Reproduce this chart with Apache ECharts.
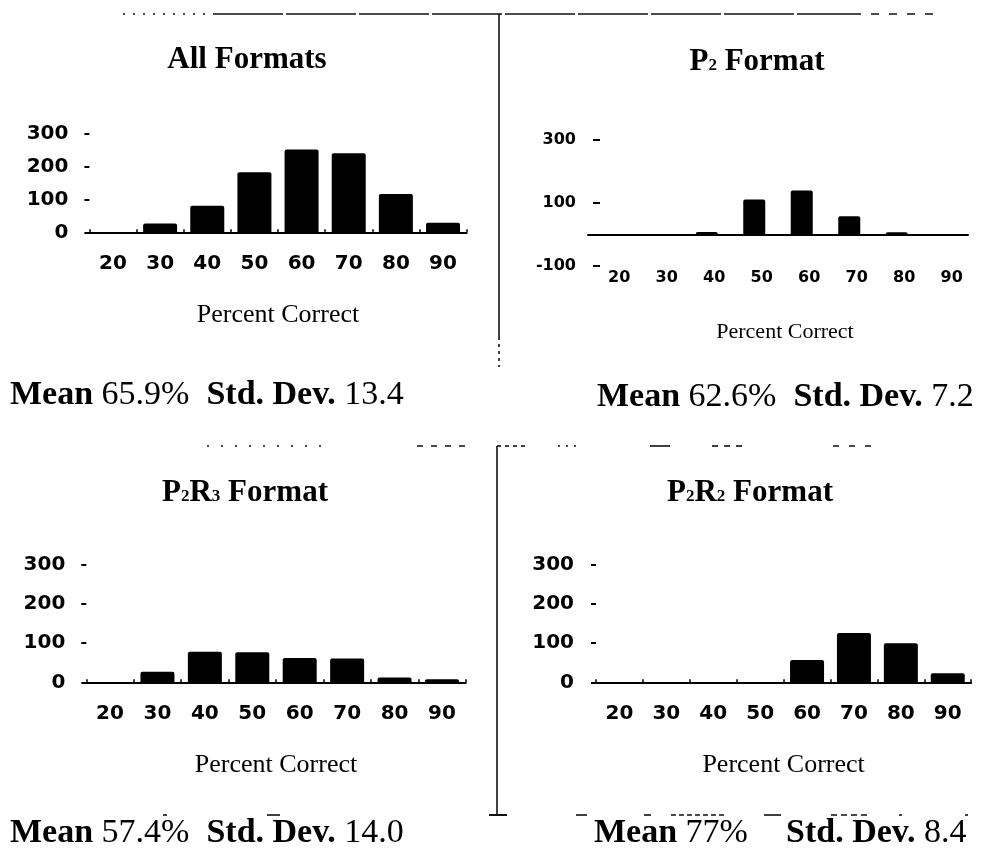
<!DOCTYPE html>
<html><head><meta charset="utf-8">
<script src="https://cdn.jsdelivr.net/npm/echarts@6/dist/echarts.min.js"></script>
<style>html,body{margin:0;padding:0;background:#fff}#c{width:988px;height:857px}</style>
</head><body><div id="c"></div>
<script>
// ---- data ----
const categories = ['20', '30', '40', '50', '60', '70', '80', '90'];
const allFormats = [0, 27, 81, 183, 253, 241, 117, 29];
const p2Format   = [1, 1, 8, 111, 140, 58, 7, 0];
const p2r3Format = [0, 27, 78, 77, 62, 61, 12, 8];
const p2r2Format = [0, 0, 1, 1, 57, 126, 100, 23];
const yStd = { min: 0, max: 300, interval: 100 };
const yP2  = { min: -100, max: 300, interval: 200 };
const xName = 'Percent Correct';
const titleTexts = ['{b|All Formats}', '{b|P}{s|2}{b| Format}', '{b|P}{s|2}{b|R}{s|3}{b| Format}', '{b|P}{s|2}{b|R}{s|2}{b| Format}'];
const means = ['65.9%', '62.6%', '57.4%', '77%'];
const sds   = ['13.4', '7.2', '14.0', '8.4'];

// ---- styles ----
const BLACK = '#000';
const NUMF = 'DejaVu Sans';
const SERIF = 'Liberation Serif';

function yAxisStd(gi, margin) {
  return {
    type: 'value', gridIndex: gi, min: yStd.min, max: yStd.max, interval: yStd.interval,
    axisLine: { show: false }, splitLine: { show: false },
    axisTick: { show: true, length: 5, lineStyle: { color: BLACK, width: 2 } },
    axisLabel: { color: BLACK, fontFamily: NUMF, fontWeight: 'bold', fontSize: 20, margin: margin, padding: [0, 0, 8, 0] }
  };
}
function xAxisStd(gi) {
  return {
    type: 'category', gridIndex: gi, data: categories,
    axisLine: { show: true, onZero: true, lineStyle: { color: BLACK, width: 2 } },
    axisTick: { show: true, inside: true, length: 3, lineStyle: { color: BLACK, width: 1.5 } },
    axisLabel: { color: BLACK, fontFamily: NUMF, fontWeight: 'bold', fontSize: 20, margin: 21 },
    name: xName, nameLocation: 'middle', nameGap: 70,
    nameTextStyle: { fontFamily: SERIF, fontSize: 26, color: BLACK }
  };
}
function barSeries(xi, yi, data, w) {
  return {
    type: 'bar', xAxisIndex: xi, yAxisIndex: yi, data: data, barWidth: w,
    itemStyle: { color: BLACK, borderRadius: [2, 2, 0, 0] }, silent: true
  };
}

const titleRich = {
  b: { fontFamily: SERIF, fontWeight: 'bold', fontSize: 31, fill: BLACK },
  s: { fontFamily: SERIF, fontWeight: 'bold', fontSize: 17, fill: BLACK, padding: [7, 0, 0, 0] }
};
const statRich = {
  b: { fontFamily: SERIF, fontWeight: 'bold', fontSize: 34, fill: BLACK },
  r: { fontFamily: SERIF, fontWeight: 'normal', fontSize: 34, fill: BLACK }
};
function txt(x, y, text, rich, align) {
  return { type: 'text', x: x, y: y, silent: true,
    style: { text: text, rich: rich, align: align, verticalAlign: 'middle' } };
}
function seg(x1, y1, x2, y2, dash, w) {
  return { type: 'line', silent: true,
    shape: { x1: x1, y1: y1, x2: x2, y2: y2 },
    style: { stroke: '#111', lineWidth: w || 1.6, lineDash: dash || null } };
}
function stat(m, s) {
  return '{b|Mean }{r|' + m + '  }{b|Std. Dev. }{r|' + s + '}';
}

const decor = [
  seg(123, 14, 213, 14, [2, 8]), seg(213, 14, 853, 14, [70, 3]), seg(853, 14, 937, 14, [8, 10]),
  seg(499, 14, 499, 337), seg(499, 337, 499, 367, [3, 4]),
  seg(497, 446, 497, 815), seg(489, 815, 507, 815, null, 2),
  seg(207, 446, 330, 446, [2, 12]), seg(417, 446, 470, 446, [6, 8]), seg(497, 446, 525, 446, [4, 4]),
  seg(558, 446, 580, 446, [2, 6]), seg(650, 446, 670, 446), seg(712, 446, 745, 446, [6, 6]), seg(833, 446, 878, 446, [6, 10]),
  seg(576, 815, 587, 815), seg(644, 815, 651, 815), seg(671, 815, 727, 815, [5, 3]), seg(764, 815, 781, 815),
  seg(831, 815, 867, 815, [6, 4]), seg(899, 815, 902, 815), seg(965, 815, 968, 815),
  seg(163, 815, 167, 815), seg(267, 815, 280, 815)
];

const texts = [
  txt(247, 60, titleTexts[0], titleRich, 'center'),
  txt(757, 62, titleTexts[1], titleRich, 'center'),
  txt(245, 493, titleTexts[2], titleRich, 'center'),
  txt(750, 493, titleTexts[3], titleRich, 'center'),
  txt(10, 395, stat(means[0], sds[0]), statRich, 'left'),
  txt(597, 397, stat(means[1], sds[1]), statRich, 'left'),
  txt(10, 833, stat(means[2], sds[2]), statRich, 'left'),
  txt(594, 833, '{b|Mean }{r|' + means[3] + '}', statRich, 'left'),
  txt(786, 833, '{b|Std. Dev. }{r|' + sds[3] + '}', statRich, 'left')
];

const option = {
  animation: false,
  backgroundColor: '#fff',
  grid: [
    { left: 89.4, top: 134, width: 377.2, height: 98.3 },
    { left: 588, top: 140, width: 380, height: 126 },
    { left: 86.3, top: 565, width: 379.4, height: 117.3 },
    { left: 596, top: 565, width: 375.2, height: 117.3 }
  ],
  xAxis: [
    xAxisStd(0),
    { type: 'category', gridIndex: 1, data: categories, position: 'bottom',
      axisLine: { show: true, onZero: true, lineStyle: { color: BLACK, width: 2 } },
      axisTick: { show: false }, axisLabel: { show: false } },
    { type: 'category', gridIndex: 1, data: categories, position: 'bottom',
      axisLine: { show: false, onZero: false }, axisTick: { show: false },
      axisLabel: { color: BLACK, fontFamily: NUMF, fontWeight: 'bold', fontSize: 16, margin: 4, padding: [0, 0, 0, 15] },
      name: xName, nameLocation: 'middle', nameGap: 55,
      nameTextStyle: { fontFamily: SERIF, fontSize: 22, color: BLACK, padding: [0, 0, 0, 14] } },
    xAxisStd(2),
    xAxisStd(3)
  ],
  yAxis: [
    yAxisStd(0, 21),
    { type: 'value', gridIndex: 1, min: yP2.min, max: yP2.max, interval: yP2.interval, offset: -12,
      axisLine: { show: false }, splitLine: { show: false },
      axisTick: { show: true, length: 7, lineStyle: { color: BLACK, width: 2 } },
      axisLabel: { color: BLACK, fontFamily: NUMF, fontWeight: 'bold', fontSize: 16, margin: 24, padding: [0, 0, 4, 0] } },
    yAxisStd(2, 21),
    yAxisStd(3, 22)
  ],
  series: [
    barSeries(0, 0, allFormats, 34),
    barSeries(1, 1, p2Format, 22),
    barSeries(3, 2, p2r3Format, 34),
    barSeries(4, 3, p2r2Format, 34)
  ],
  graphic: decor.concat(texts)
};

const chart = echarts.init(document.getElementById('c'), null, { renderer: 'canvas' });
chart.setOption(option);
</script>
</body></html>
